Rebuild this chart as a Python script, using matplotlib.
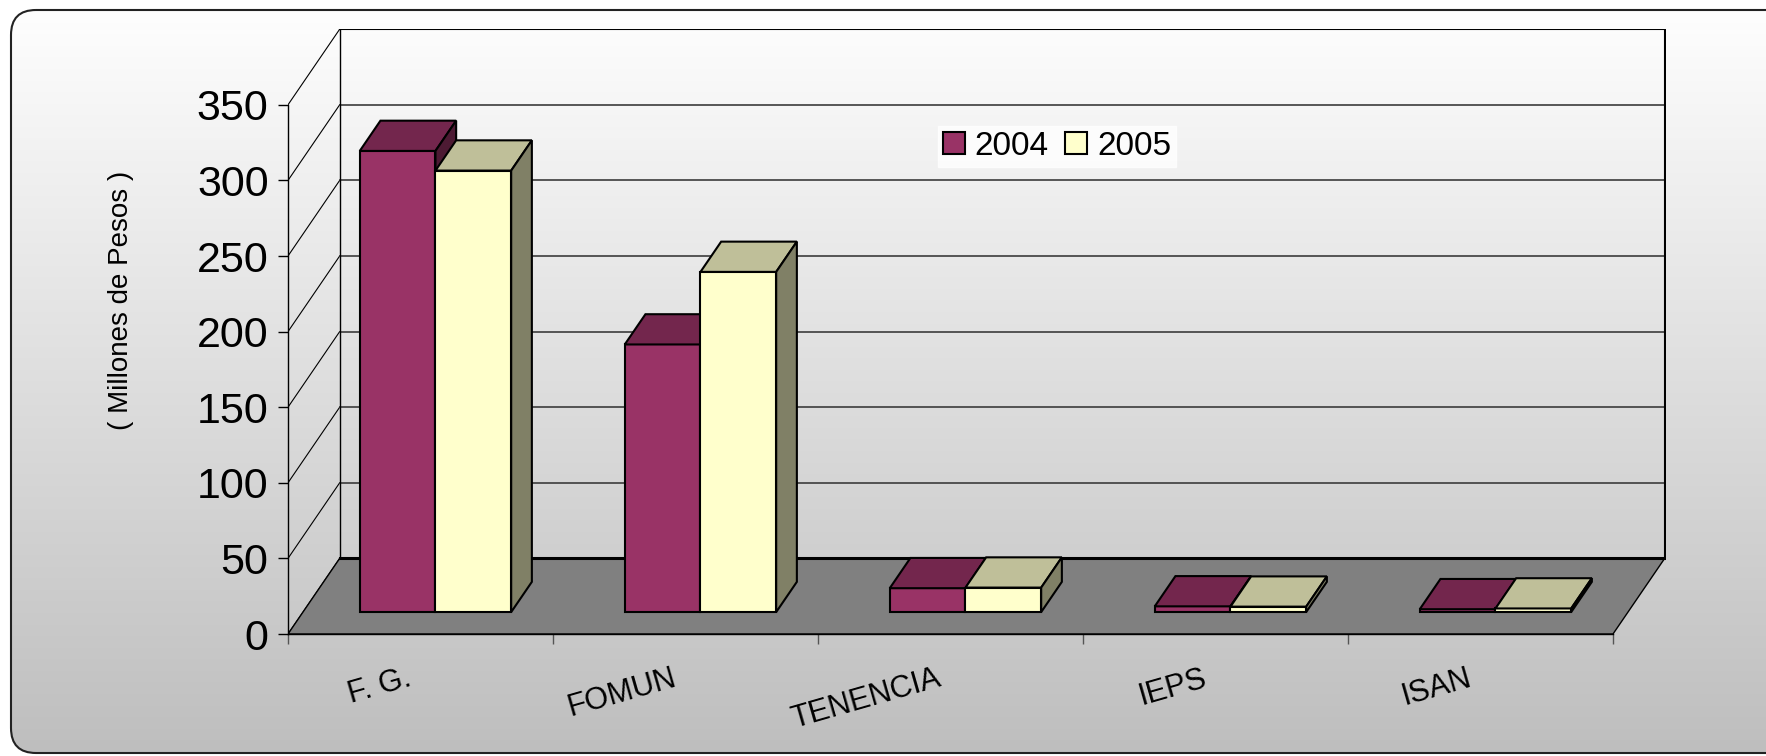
import numpy as np
import matplotlib.pyplot as plt
from matplotlib.patches import Polygon, FancyBboxPatch, Patch

plt.rcParams['font.family'] = ['Liberation Sans', 'DejaVu Sans']

# data
categories = ['F. G.', 'FOMUN', 'TENENCIA', 'IEPS', 'ISAN']
years = ['2004', '2005']
v2004 = [305, 177, 15.8, 3.8, 1.9]
v2005 = [292, 225, 16.2, 3.6, 2.4]
yticks = [0, 50, 100, 150, 200, 250, 300, 350]

front_col = ['#993366', '#FFFFCC']
top_col = ['#73264D', '#BFBF99']
side_col = ['#4D1A33', '#808066']

W, H = 1766, 756
fig = plt.figure(figsize=(W / 100, H / 100), dpi=100)

# rounded panel with a vertical grey gradient
bg = fig.add_axes([0, 0, 1, 1])
grad = np.linspace(254, 190, 256).reshape(-1, 1) / 255
im = bg.imshow(np.dstack([grad] * 3), extent=[11, W + 40, 753, 10], aspect='auto')
box = FancyBboxPatch((11, 10), W + 40, 743, boxstyle='round,pad=0,rounding_size=25',
                     fc='none', ec='#222222', lw=1.5)
bg.add_patch(box)
im.set_clip_path(box)
bg.set_xlim(0, W)
bg.set_ylim(H, 0)
bg.axis('off')

# pseudo 3d: depth z in [0,1] shifts points right and up
DX, DY = 0.195, 50
z0, z1 = 0.29, 0.69


def proj(x, y, z):
    return (x + DX * z, y + DY * z)


ax = fig.add_axes([288 / W, 1 - 634 / H, 5.2 * 265 / W, 400 * 1.512 / H])
ax.patch.set_alpha(0)
n = len(categories)

# walls and floor
for v in yticks:
    ax.plot([0, DX], [v, v + DY], color='black', lw=0.8, zorder=1)
for v in yticks[1:-1]:
    ax.plot([DX, n + DX], [v + DY, v + DY], color='#3c3c3c', lw=1.2, zorder=1)
ax.plot([DX, n + DX], [yticks[-1] + DY] * 2, color='black', lw=1.5, zorder=1)
ax.plot([DX, DX], [DY, yticks[-1] + DY], color='black', lw=1, zorder=1)
ax.plot([n + DX, n + DX], [DY, yticks[-1] + DY], color='black', lw=1.5, zorder=1)
floor = Polygon([proj(0, 0, 0), proj(n, 0, 0), proj(n, 0, 1), proj(0, 0, 1)],
                fc='#808080', ec='black', lw=1, zorder=2)
ax.add_patch(floor)
ax.plot([DX, n + DX], [DY, DY], color='black', lw=2.2, zorder=2)

# bars
bw = 1 / 3.5
for s, vals in enumerate([v2004, v2005]):
    xl = np.arange(n) + (0.75 + s) * bw
    ax.bar(xl + DX * z0, vals, width=bw, bottom=DY * z0, align='edge',
           color=front_col[s], edgecolor='black', linewidth=1.5, zorder=3 + s)
    for x0, v in zip(xl, vals):
        x1 = x0 + bw
        top = [proj(x0, v, z0), proj(x1, v, z0), proj(x1, v, z1), proj(x0, v, z1)]
        side = [proj(x1, 0, z0), proj(x1, 0, z1), proj(x1, v, z1), proj(x1, v, z0)]
        ax.add_patch(Polygon(top, fc=top_col[s], ec='black', lw=1.5, zorder=3 + s))
        ax.add_patch(Polygon(side, fc=side_col[s], ec='black', lw=1.5, zorder=3 + s))

ax.set_xlim(0, 5.2)
ax.set_ylim(0, 400)
for sp in ['top', 'right']:
    ax.spines[sp].set_visible(False)
ax.spines['left'].set_bounds(0, yticks[-1])
ax.spines['left'].set_linewidth(1)
ax.spines['bottom'].set_bounds(0, n)
ax.spines['bottom'].set_linewidth(1)
ax.spines['bottom'].set_zorder(2.5)
ax.set_yticks(yticks)
ax.tick_params(axis='y', length=7, width=1, pad=7, labelsize=31)
ax.set_xticks(range(n + 1))
ax.set_xticklabels([])
ax.tick_params(axis='x', length=7, width=1, color='#555555')

for i, c in enumerate(categories):
    ax.text(i + 0.5 - 0.03, -34, c, rotation=16, ha='right', va='baseline',
            rotation_mode='anchor', fontsize=22, clip_on=False)

fig.text(121 / W, 1 - 300 / H, '( Millones de Pesos )', rotation=90,
         ha='center', va='center', fontsize=20)

handles = [Patch(fc=front_col[k], ec='black', lw=1.5) for k in range(2)]
leg = fig.legend(handles, years, loc='center', bbox_to_anchor=(1057 / W, 1 - 146.5 / H),
                 ncol=2, fontsize=24, frameon=True, fancybox=False, handlelength=0.65,
                 handleheight=0.65, handletextpad=0.3, columnspacing=0.5, borderpad=0.15,
                 borderaxespad=0)
leg.get_frame().set_facecolor('white')
leg.get_frame().set_edgecolor('white')

fig.savefig('out.png', dpi=100)
